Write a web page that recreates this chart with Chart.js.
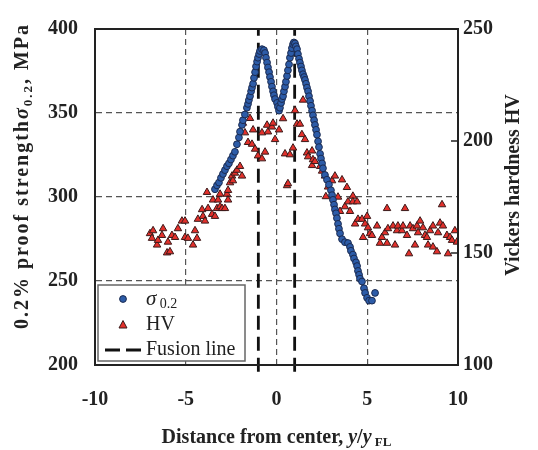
<!DOCTYPE html>
<html>
<head>
<meta charset="utf-8">
<script src="https://cdn.jsdelivr.net/npm/chart.js"></script>
<style>
  html, body { margin: 0; padding: 0; background: #fff; }
  #wrap { width: 538px; height: 450px; }
</style>
</head>
<body>
<div id="wrap"><canvas id="chart" width="538" height="450"></canvas></div>
<script>
// 0.2% proof strength (left axis, MPa) vs distance y/yFL
const sigmaX = [-3.39,-3.28,-3.17,-3.06,-2.95,-2.84,-2.73,-2.62,-2.51,-2.40,-2.29,-2.18,-2.07,-2.01,-1.90,-1.85,-1.74,-1.63,-1.57,-1.52,
  -1.46,-1.40,-1.35,-1.29,-1.24,-1.18,-1.13,-1.07,-1.02,-0.96,-0.91,-0.80,-0.69,-0.63,-0.58,-0.52,-0.47,-0.41,-0.36,-0.30,
  -0.25,-0.19,-0.14,-0.08,0.03,0.08,0.14,0.19,0.25,0.30,0.36,0.41,0.47,0.52,0.58,0.63,0.69,0.74,0.80,0.85,
  0.91,0.96,1.02,1.07,1.13,1.18,1.24,1.29,1.35,1.40,1.46,1.52,1.57,1.63,1.68,1.74,1.79,1.85,1.90,1.96,
  2.01,2.07,2.12,2.18,2.23,2.29,2.34,2.40,2.45,2.51,2.56,2.67,2.78,2.89,3.00,3.06,3.11,3.17,3.22,3.28,
  3.33,3.39,3.44,3.50,3.61,3.77,3.94,4.05,4.10,4.21,4.27,4.38,4.44,4.49,4.55,4.60,4.71,4.82,4.88,4.99,
  5.10,5.26,5.43];
const sigmaVal = [304.6,306.9,308.6,311.4,313.7,316.0,318.3,320.0,322.3,324.6,326.9,331.4,335.4,338.9,342.9,345.7,349.1,353.1,355.4,357.7,
  360.0,362.9,365.1,367.4,370.9,374.3,377.7,380.6,382.9,385.1,386.9,388.0,387.4,385.7,382.9,380.0,377.1,374.3,371.4,368.6,
  365.7,362.9,360.6,358.3,356.0,353.7,351.4,353.1,356.0,358.3,360.0,362.9,365.7,368.6,372.0,375.4,378.9,382.9,385.7,388.6,
  390.9,392.0,391.4,389.7,388.0,385.1,382.3,380.0,377.7,375.4,373.1,371.4,369.7,367.4,365.1,362.9,360.0,357.1,354.3,351.4,
  348.6,345.7,342.9,340.0,337.1,333.1,329.7,325.7,322.9,320.0,317.1,313.1,310.3,307.4,304.0,301.1,298.3,295.4,292.6,290.3,
  287.4,284.0,281.1,278.3,274.9,273.1,272.6,270.3,268.0,265.7,263.4,261.1,258.9,256.0,253.7,251.4,249.7,245.7,242.9,240.0,
  238.3,238.3,242.9];

// Vickers hardness (right axis, HV)
const hvX = [-6.97,-6.86,-6.80,-6.58,-6.53,-6.31,-6.25,-6.03,-5.98,-5.87,-5.76,-5.59,-5.43,-5.21,-5.04,-5.04,-4.88,-4.60,-4.49,-4.38,
  -4.33,-4.10,-4.05,-3.94,-3.83,-3.77,-3.55,-3.50,-3.39,-3.28,-3.22,-3.11,-3.11,-3.00,-2.84,-2.73,-2.67,-2.67,-2.56,-2.45,
  -2.40,-2.29,-2.18,-2.01,-1.90,-1.85,-1.74,-1.57,-1.46,-1.35,-1.29,-1.18,-1.02,-0.80,-0.80,-0.63,-0.52,-0.47,-0.25,-0.19,
  -0.08,0.14,0.36,0.47,0.58,0.63,0.74,0.91,1.02,1.13,1.29,1.40,1.46,1.57,1.68,1.74,1.96,1.96,2.01,2.12,
  2.40,2.51,2.67,2.72,2.84,3.06,3.22,3.39,3.50,3.61,3.77,3.88,3.94,4.05,4.21,4.21,4.33,4.44,4.49,4.71,
  4.77,4.88,4.99,5.04,5.15,5.26,5.54,5.70,5.81,5.98,6.09,6.09,6.14,6.42,6.53,6.64,6.69,6.91,6.97,7.08,
  7.19,7.30,7.36,7.52,7.63,7.74,7.80,7.91,8.07,8.18,8.29,8.35,8.46,8.62,8.62,8.84,8.90,9.01,9.12,9.17,
  9.39,9.45,9.56,9.67,9.83,9.94];
const hvVal = [158.7,156.6,160.0,153.6,155.7,157.9,160.9,150.1,154.9,150.6,157.9,157.0,160.9,164.3,164.3,157.0,156.6,153.6,160.0,156.6,
  165.1,169.4,166.4,164.3,177.1,169.9,167.3,173.7,166.4,169.9,173.7,176.3,170.7,169.9,169.9,176.3,173.7,178.0,181.4,184.4,
  182.3,185.7,187.0,188.7,184.4,208.0,203.7,199.4,210.1,198.6,205.0,196.4,193.4,192.1,203.7,195.1,207.1,204.1,206.3,208.0,
  200.7,205.0,210.0,194.3,180.1,181.0,193.9,196.9,213.6,207.6,207.6,202.9,218.3,200.7,194.7,193.0,195.6,189.1,191.7,190.9,
  188.7,186.6,184.4,175.2,179.5,182.3,184.4,175.0,168.6,182.7,170.7,179.3,172.9,168.6,175.4,172.9,163.0,172.9,165.1,165.1,
  157.0,163.0,166.4,161.3,158.7,157.9,162.1,154.4,157.0,159.1,154.4,169.9,160.9,162.1,153.6,160.0,162.1,160.0,162.1,169.9,
  157.9,149.7,162.1,160.9,153.6,162.1,159.1,164.3,161.3,157.9,157.0,153.6,160.0,162.1,152.7,150.6,159.1,163.4,171.6,162.1,
  157.9,149.7,157.0,155.7,160.0,154.9];

// fusion lines at y/yFL = -1 and 1
const fusionX = [-1, 1];
const fusionSpan = [196, 400];

const xTicks = [-10, -5, 0, 5, 10];
const sigmaTicks = [200, 250, 300, 350, 400];
const hvTicks = [100, 150, 200, 250];

const serif = "'Liberation Serif', 'Times New Roman', serif";
const blue = '#2d5ca8';
const red = '#e2302b';

function pairs(xs, ys) {
    return xs.map((x, i) => ({x: x, y: ys[i]}));
}

function innerGrid(min, max) {
    return function (ctx) {
        const v = ctx.tick && ctx.tick.value;
        return (v === min || v === max) ? 'rgba(0,0,0,0)' : '#555';
    };
}

// draws a row of text pieces (font / baseline shift) centred or left-aligned on x
function drawRuns(ctx, runs, x, y, centre) {
    let total = 0;
    runs.forEach(r => { ctx.font = r.font; r.w = ctx.measureText(r.text).width; total += r.w; });
    let cx = centre ? x - total / 2 : x;
    runs.forEach(r => {
        ctx.font = r.font;
        ctx.fillText(r.text, cx, y + (r.dy || 0));
        cx += r.w;
    });
}

const extras = {
    id: 'extras',
    afterDraw(chart) {
        const {ctx, chartArea: a} = chart;
        ctx.save();

        // frame
        ctx.strokeStyle = '#222';
        ctx.lineWidth = 2;
        ctx.setLineDash([]);
        ctx.strokeRect(a.left, a.top, a.right - a.left, a.bottom - a.top);

        // small inner ticks on the right axis
        const y1 = chart.scales.y1;
        ctx.lineWidth = 1.5;
        y1.ticks.forEach(t => {
            const py = y1.getPixelForValue(t.value);
            ctx.beginPath();
            ctx.moveTo(a.right - 7, py);
            ctx.lineTo(a.right, py);
            ctx.stroke();
        });

        ctx.fillStyle = '#222';
        ctx.textBaseline = 'alphabetic';

        // x axis title
        drawRuns(ctx, [
            {text: 'Distance from center, ', font: 'bold 20px ' + serif},
            {text: 'y', font: 'italic bold 20px ' + serif},
            {text: '/', font: 'bold 20px ' + serif},
            {text: 'y', font: 'italic bold 20px ' + serif},
            {text: ' FL', font: 'bold 13px ' + serif, dy: 3}
        ], (a.left + a.right) / 2, 443, true);

        // left axis title
        ctx.save();
        ctx.translate(28, 176);
        ctx.rotate(-Math.PI / 2);
        if ('letterSpacing' in ctx) ctx.letterSpacing = '2px';
        drawRuns(ctx, [
            {text: '0.2% proof strength', font: 'bold 20px ' + serif},
            {text: 'σ', font: 'italic bold 20px ' + serif},
            {text: '0.2', font: 'bold 13px ' + serif, dy: 4},
            {text: ', MPa', font: 'bold 20px ' + serif}
        ], 0, 0, true);
        ctx.restore();

        // right axis title
        ctx.save();
        ctx.translate(519, 185);
        ctx.rotate(-Math.PI / 2);
        drawRuns(ctx, [{text: 'Vickers hardness HV', font: 'bold 20px ' + serif}], 0, 0, true);
        ctx.restore();

        // legend box, lower left
        const lx = a.left + 3, ly = a.bottom - 80, lw = 147, lh = 76;
        ctx.fillStyle = '#fff';
        ctx.fillRect(lx, ly, lw, lh);
        ctx.strokeStyle = '#666';
        ctx.lineWidth = 1.5;
        ctx.strokeRect(lx, ly, lw, lh);

        const symX = lx + 25, txtX = lx + 48;
        const rows = [ly + 14, ly + 40, ly + 65];

        ctx.lineWidth = 1;
        ctx.strokeStyle = '#1b2a4f';
        ctx.fillStyle = blue;
        ctx.beginPath();
        ctx.arc(symX, rows[0], 3.4, 0, Math.PI * 2);
        ctx.fill();
        ctx.stroke();

        ctx.fillStyle = red;
        ctx.strokeStyle = '#3a1a1a';
        ctx.beginPath();
        ctx.moveTo(symX, rows[1] - 4.5);
        ctx.lineTo(symX + 4, rows[1] + 3);
        ctx.lineTo(symX - 4, rows[1] + 3);
        ctx.closePath();
        ctx.fill();
        ctx.stroke();

        ctx.strokeStyle = '#111';
        ctx.lineWidth = 3;
        ctx.setLineDash([15, 6]);
        ctx.beginPath();
        ctx.moveTo(lx + 7, rows[2]);
        ctx.lineTo(lx + 43, rows[2]);
        ctx.stroke();
        ctx.setLineDash([]);

        ctx.fillStyle = '#222';
        ctx.textBaseline = 'middle';
        drawRuns(ctx, [
            {text: 'σ', font: 'italic 21px ' + serif},
            {text: ' 0.2', font: '14px ' + serif, dy: 5}
        ], txtX, rows[0], false);
        drawRuns(ctx, [{text: 'HV', font: '20px ' + serif}], txtX, rows[1], false);
        drawRuns(ctx, [{text: 'Fusion line', font: '20px ' + serif}], txtX, rows[2], false);

        ctx.restore();
    }
};

const tickFont = {family: serif, size: 20, weight: 'bold'};

new Chart(document.getElementById('chart'), {
    type: 'scatter',
    data: {
        datasets: [
            {
                label: 'σ0.2',
                data: pairs(sigmaX, sigmaVal),
                yAxisID: 'y',
                pointStyle: 'circle',
                pointRadius: 3.4,
                pointBackgroundColor: blue,
                pointBorderColor: '#1b2a4f',
                pointBorderWidth: 1,
                order: 1
            },
            {
                label: 'HV',
                data: pairs(hvX, hvVal),
                yAxisID: 'y1',
                pointStyle: 'triangle',
                pointRadius: 4.3,
                pointBackgroundColor: red,
                pointBorderColor: '#3a1a1a',
                pointBorderWidth: 1,
                order: 2
            },
            {
                label: 'Fusion line',
                type: 'line',
                data: pairs([fusionX[0], fusionX[0]], fusionSpan),
                yAxisID: 'y',
                borderColor: '#111',
                borderWidth: 2.8,
                borderDash: [14, 7],
                pointRadius: 0,
                clip: false,
                order: 3
            },
            {
                label: 'Fusion line',
                type: 'line',
                data: pairs([fusionX[1], fusionX[1]], fusionSpan),
                yAxisID: 'y',
                borderColor: '#111',
                borderWidth: 2.8,
                borderDash: [14, 7],
                pointRadius: 0,
                clip: false,
                order: 3
            }
        ]
    },
    options: {
        responsive: false,
        animation: false,
        layout: {padding: {top: 15, left: 0, right: 0, bottom: 0}},
        plugins: {
            legend: {display: false},
            tooltip: {enabled: false}
        },
        scales: {
            x: {
                type: 'linear',
                min: -10,
                max: 10,
                afterBuildTicks: s => { s.ticks = xTicks.map(v => ({value: v})); },
                afterFit: s => { s.height = 85; },
                ticks: {font: tickFont, color: '#222', padding: 23},
                grid: {color: innerGrid(-10, 10), lineWidth: 1.2, drawTicks: false},
                border: {display: true, color: '#222', width: 2, dash: [6, 4]}
            },
            y: {
                position: 'left',
                min: 200,
                max: 400,
                afterBuildTicks: s => { s.ticks = sigmaTicks.map(v => ({value: v})); },
                afterFit: s => { s.width = 95; },
                ticks: {font: tickFont, color: '#222', padding: 17},
                grid: {color: innerGrid(200, 400), lineWidth: 1.2, drawTicks: false},
                border: {display: true, color: '#222', width: 2, dash: [6, 4]}
            },
            y1: {
                position: 'right',
                min: 100,
                max: 250,
                afterBuildTicks: s => { s.ticks = hvTicks.map(v => ({value: v})); },
                afterFit: s => { s.width = 80; },
                ticks: {font: tickFont, color: '#222', padding: 5},
                grid: {drawOnChartArea: false, drawTicks: false},
                border: {display: true, color: '#222', width: 2}
            }
        }
    },
    plugins: [extras]
});
</script>
</body>
</html>
